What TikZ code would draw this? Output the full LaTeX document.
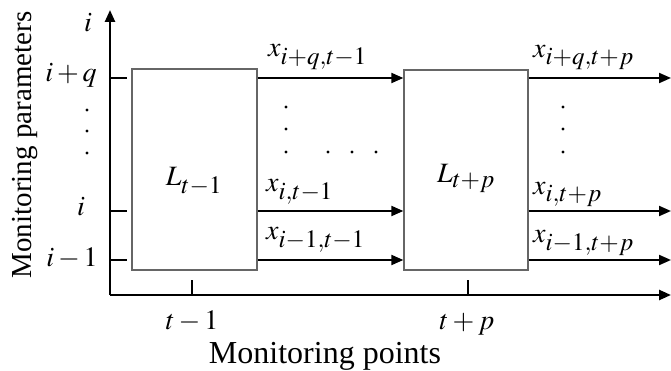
\documentclass[tikz,border=0pt]{standalone}
\usepackage{mathptmx}
\usepackage{fontspec}
\setmainfont{Liberation Serif}
\DeclareMathSizes{28}{28}{25}{20}
\usetikzlibrary{arrows.meta}
\begin{document}
\begin{tikzpicture}[x=1pt,y=-1pt,
  every node/.style={font=\fontsize{28}{32}\selectfont, inner sep=0pt},
  axis/.style={line width=2.4pt, -{Triangle[length=12pt,width=10pt]}},
  flow/.style={line width=2pt, -{Triangle[length=12pt,width=10pt]}},
  tick/.style={line width=2pt},
  block/.style={draw=black!60, line width=1.3pt, fill=white},
  dotmark/.style={circle, fill=black, minimum size=3.4pt}]
\useasboundingbox (0,0) rectangle (671,371);
% axes
\coordinate (O) at (110,295);
\coordinate (ytop) at (110,10);
\coordinate (xend) at (671,295);
\draw[axis] (O) -- (ytop);
\draw[axis] (O) -- (xend);
% y ticks
\coordinate (yq) at (110,78);
\coordinate (yi) at (110,211);
\coordinate (yim) at (110,260);
\draw[tick] (yq) -- ++(17,0);
\draw[tick] (yi) -- ++(17,0);
\draw[tick] (yim) -- ++(17,0);
% x ticks
\coordinate (xt1) at (192,295);
\coordinate (xtp) at (468,295);
\draw[tick] (xt1) -- ++(0,-15);
\draw[tick] (xtp) -- ++(0,-15);
% blocks
\node[block, minimum width=125pt, minimum height=201pt] (L1) at (194.5,169.5) {};
\node[block, minimum width=124pt, minimum height=200pt] (L2) at (466,170) {};
\node[anchor=base] (L1t) at (194,186) {$L_{t-1}$};
\node[anchor=base] (L2t) at (466,183) {$L_{t+p}$};
% flows
\coordinate (a1) at (L1.east |- yq);
\coordinate (a2) at (L1.east |- yi);
\coordinate (a3) at (L1.east |- yim);
\coordinate (b1) at (L2.west |- yq);
\coordinate (b2) at (L2.west |- yi);
\coordinate (b3) at (L2.west |- yim);
\draw[flow] (a1) -- (b1);
\draw[flow] (a2) -- (b2);
\draw[flow] (a3) -- (b3);
\coordinate (c1) at (L2.east |- yq);
\coordinate (c2) at (L2.east |- yi);
\coordinate (c3) at (L2.east |- yim);
\coordinate (d1) at (671,78);
\coordinate (d2) at (671,211);
\coordinate (d3) at (671,260);
\draw[flow] (c1) -- (d1);
\draw[flow] (c2) -- (d2);
\draw[flow] (c3) -- (d3);
% flow labels
\node[anchor=base west] (l1) at (268,57) {$x_{i+q,t-1}$};
\node[anchor=base west] (l2) at (266,192) {$x_{i,t-1}$};
\node[anchor=base west] (l3) at (266,240) {$x_{i-1,t-1}$};
\node[anchor=base west] (r1) at (533,58) {$x_{i+q,t+p}$};
\node[anchor=base west] (r2) at (533,195) {$x_{i,t+p}$};
\node[anchor=base west] (r3) at (533,243) {$x_{i-1,t+p}$};
% dots
\node[dotmark] (m1) at (286,107) {};
\node[dotmark] (m2) at (286,129) {};
\node[dotmark] (m3) at (286,152) {};
\node[dotmark] (h1) at (328,152) {};
\node[dotmark] (h2) at (352,152) {};
\node[dotmark] (h3) at (376,152) {};
\node[dotmark] (n1) at (563,107) {};
\node[dotmark] (n2) at (563,129) {};
\node[dotmark] (n3) at (563,152) {};
\node[dotmark] (y1) at (87,110) {};
\node[dotmark] (y2) at (87,131) {};
\node[dotmark] (y3) at (87,153) {};
% axis labels
\node[anchor=base] (yl0) at (88,32) {$i$};
\node[anchor=base] (yl1) at (71,82) {$i+q$};
\node[anchor=base] (yl2) at (81,215) {$i$};
\node[anchor=base] (yl3) at (72,266) {$i-1$};
\node[anchor=base] (xl1) at (192,329) {$t-1$};
\node[anchor=base] (xl2) at (467,329) {$t+p$};
\node[anchor=base, font=\fontsize{32}{36}\selectfont] (xlab) at (325,363) {Monitoring points};
\node[rotate=90, font=\fontsize{29}{32}\selectfont] (ylab) at (25,145) {Monitoring parameters};
\end{tikzpicture}
\end{document}
